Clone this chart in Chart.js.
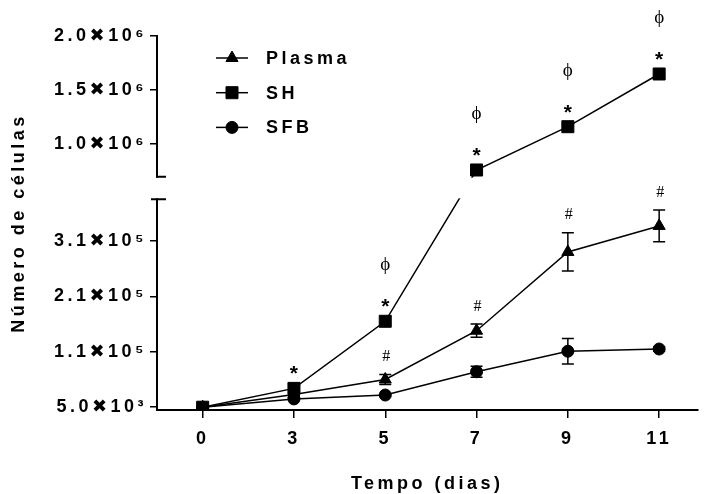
<!DOCTYPE html>
<html><head><meta charset="utf-8">
<script src="https://cdn.jsdelivr.net/npm/chart.js@4.4.0/dist/chart.umd.min.js"></script>
<style>html,body{margin:0;padding:0;background:#fff}#wrap{width:707px;height:494px;position:relative}</style>
</head><body><div id="wrap"><canvas id="c"></canvas></div>
<script>
// ---- data ----
const days = ['0', '3', '5', '7', '9', '11'];
const seriesNames = ['Plasma', 'SH', 'SFB'];
const plasmaValues = [5000, 28000, 55000, 143000, 285000, 332000];
const plasmaErrors = [0, 2000, 9000, 12000, 34500, 28500];
const shValues = [5000, 39000, 160000, 762000, 1162000, 1649000];
const shErrors = [0, 0, 0, 0, 0, 0];
const sfbValues = [5000, 20000, 27000, 69000, 106000, 110000];
const sfbErrors = [0, 2000, 2500, 10000, 23000, 4000];
const yTickValues = [5000, 105000, 205000, 305000, 1000000, 1500000, 2000000];
const yTickLabels = ['5.0\u271610\u00b3', '1.1\u271610\u2075', '2.1\u271610\u2075', '3.1\u271610\u2075',
                     '1.0\u271610\u2076', '1.5\u271610\u2076', '2.0\u271610\u2076'];
const lowerRange = [0, 380000];
const upperRange = [700000, 2000000];
const shStars = ['', '*', '*', '*', '*', '*'];
const shPhis = ['', '', '\u03d5', '\u03d5', '\u03d5', '\u03d5'];
const plasmaHashes = ['', '', '#', '#', '#', '#'];

// ---- style ----
const SEG = {lower: 210.7, gap: 22.6, upper: 140.7};
const FONT = '"Liberation Sans", Arial, "DejaVu Sans", sans-serif';
const SERIF = '"Liberation Serif", "Times New Roman", "DejaVu Serif", serif';
const SPACING = '3.5px';
const FS = 18;

// broken (two-segment) linear scale
class BrokenLinearScale extends Chart.LinearScale {
  _fr() {
    const tot = SEG.lower + SEG.gap + SEG.upper;
    return [SEG.lower / tot, SEG.gap / tot, SEG.upper / tot];
  }
  _dec(v) {
    const [fL, fG, fU] = this._fr();
    const [a, b] = lowerRange, [c, d] = upperRange;
    if (v <= b) return (v - a) / (b - a) * fL;
    if (v < c) return fL + (v - b) / (c - b) * fG;
    return fL + fG + (v - c) / (d - c) * fU;
  }
  getPixelForValue(v) {
    if (v === null || v === undefined) return NaN;
    return this.getPixelForDecimal(this._dec(v));
  }
  getValueForPixel(p) {
    const dec = this.getDecimalForPixel(p);
    const [fL, fG, fU] = this._fr();
    const [a, b] = lowerRange, [c, d] = upperRange;
    if (dec <= fL) return a + dec / fL * (b - a);
    if (dec < fL + fG) return b + (dec - fL) / fG * (c - b);
    return c + (dec - fL - fG) / fU * (d - c);
  }
}
BrokenLinearScale.id = 'brokenLinear';
BrokenLinearScale.defaults = Chart.LinearScale.defaults;
Chart.register(BrokenLinearScale);

const toXY = arr => arr.map((v, i) => ({x: i, y: v}));
const common = {borderColor: '#000', backgroundColor: '#000', borderWidth: 1.5, pointBorderWidth: 1,
  pointBackgroundColor: '#000', pointBorderColor: '#000', tension: 0, fill: false};

const datasets = [
  Object.assign({label: seriesNames[0], data: toXY(plasmaValues), errors: plasmaErrors,
    pointStyle: 'triangle', pointRadius: 7, pointHoverRadius: 7, order: 2}, common),
  Object.assign({label: seriesNames[1], data: toXY(shValues), errors: shErrors,
    pointStyle: 'rect', pointRadius: 8.5, pointHoverRadius: 8.5, order: 0}, common),
  Object.assign({label: seriesNames[2], data: toXY(sfbValues), errors: sfbErrors,
    pointStyle: 'circle', pointRadius: 6, pointHoverRadius: 6, order: 1}, common)
];

const spacingPlugin = {
  id: 'spacing',
  beforeLayout(chart) { chart.ctx.letterSpacing = SPACING; },
  beforeDraw(chart) {
    chart.ctx.letterSpacing = SPACING;
    const ctx = chart.ctx; ctx.save(); ctx.fillStyle = '#fff';
    ctx.fillRect(0, 0, chart.width, chart.height); ctx.restore();
  }
};

const errorBarPlugin = {
  id: 'errorBars',
  beforeDatasetsDraw(chart) {
    const ctx = chart.ctx, xs = chart.scales.x, ys = chart.scales.y;
    chart.data.datasets.forEach(ds => {
      if (!ds.errors) return;
      ds.data.forEach((p, i) => {
        const e = ds.errors[i];
        if (!e) return;
        const px = xs.getPixelForValue(p.x);
        const t = ys.getPixelForValue(p.y + e), b = ys.getPixelForValue(p.y - e);
        ctx.save(); ctx.strokeStyle = '#000'; ctx.lineWidth = 1.5;
        ctx.beginPath();
        ctx.moveTo(px, t); ctx.lineTo(px, b);
        ctx.moveTo(px - 6, t); ctx.lineTo(px + 6, t);
        ctx.moveTo(px - 6, b); ctx.lineTo(px + 6, b);
        ctx.stroke(); ctx.restore();
      });
    });
  }
};

function drawMarker(ctx, style, r, x, y) {
  ctx.beginPath();
  if (style === 'triangle') {
    let rad = 0;
    ctx.moveTo(x + Math.sin(rad) * r, y - Math.cos(rad) * r);
    rad += 2 * Math.PI / 3; ctx.lineTo(x + Math.sin(rad) * r, y - Math.cos(rad) * r);
    rad += 2 * Math.PI / 3; ctx.lineTo(x + Math.sin(rad) * r, y - Math.cos(rad) * r);
    ctx.closePath();
  } else if (style === 'rect') {
    const s = Math.SQRT1_2 * r; ctx.rect(x - s, y - s, 2 * s, 2 * s);
  } else {
    ctx.arc(x, y, r, 0, Math.PI * 2);
  }
  ctx.fill(); ctx.stroke();
}

const breakPlugin = {
  id: 'axisBreak',
  afterDatasetsDraw(chart) {
    const ctx = chart.ctx, ys = chart.scales.y, ca = chart.chartArea;
    const top = ys.getPixelForValue(upperRange[0]);
    const bot = ys.getPixelForValue(lowerRange[1]);
    ctx.save();
    ctx.fillStyle = '#fff';
    ctx.fillRect(ca.left - 10, top + 1, ca.right - ca.left + 20, bot - top - 2);
    ctx.strokeStyle = '#000'; ctx.lineWidth = 2;
    ctx.beginPath();
    ctx.moveTo(ca.left - 1, top); ctx.lineTo(ca.left + 9, top);
    ctx.moveTo(ca.left - 6, bot); ctx.lineTo(ca.left + 9, bot);
    ctx.stroke();
    ctx.restore();

    // significance annotations
    const xs = chart.scales.x;
    ctx.save();
    ctx.letterSpacing = '0px';
    ctx.fillStyle = '#000'; ctx.textAlign = 'center'; ctx.textBaseline = 'alphabetic';
    shValues.forEach((v, i) => {
      const px = xs.getPixelForValue(i), py = ys.getPixelForValue(v);
      if (shStars[i]) { ctx.font = 'bold 21px ' + FONT; ctx.fillText(shStars[i], px, py - 8); }
      if (shPhis[i]) { ctx.font = '19px ' + SERIF; ctx.fillText(shPhis[i], px, py - 51); }
    });
    plasmaValues.forEach((v, i) => {
      const px = xs.getPixelForValue(i), pt = ys.getPixelForValue(v + plasmaErrors[i]);
      if (plasmaHashes[i]) { ctx.font = '16px ' + SERIF; ctx.fillText(plasmaHashes[i], px + 1, pt - 13.5); }
    });
    ctx.restore();
  },
  afterDraw(chart) {
    const ctx = chart.ctx, ca = chart.chartArea;
    // legend
    ctx.save();
    ctx.letterSpacing = SPACING;
    [0, 1, 2].forEach((di, row) => {
      const ds = chart.data.datasets[di];
      const y = ca.top + 22 + row * 34.7;
      const x0 = ca.left + 59;
      ctx.strokeStyle = '#000'; ctx.fillStyle = '#000'; ctx.lineWidth = 1.5;
      ctx.beginPath(); ctx.moveTo(x0, y); ctx.lineTo(x0 + 32, y); ctx.stroke();
      ctx.lineWidth = 1;
      drawMarker(ctx, ds.pointStyle, ds.pointRadius, x0 + 16, y);
      ctx.font = 'bold ' + FS + 'px ' + FONT; ctx.textAlign = 'left'; ctx.textBaseline = 'middle';
      ctx.fillText(ds.label, x0 + 50, y + 1);
    });
    // y title
    ctx.translate(19, (ca.top + ca.bottom) / 2);
    ctx.rotate(-Math.PI / 2);
    ctx.font = 'bold ' + FS + 'px ' + FONT; ctx.textAlign = 'center'; ctx.textBaseline = 'middle';
    ctx.fillText('N\u00famero de c\u00e9lulas', 0, 0);
    ctx.restore();
  }
};

new Chart(document.getElementById('c'), {
  type: 'line',
  data: {datasets},
  options: {
    responsive: true, maintainAspectRatio: false, animation: false, events: [],
    layout: {padding: {top: 36, right: 1, bottom: 0, left: 0}},
    plugins: {legend: {display: false}, tooltip: {enabled: false}},
    scales: {
      x: {
        type: 'linear', min: -0.5, max: 5.42,
        afterBuildTicks: s => { s.ticks = days.map((d, i) => ({value: i})); },
        afterFit: s => { s.height = 84; },
        ticks: {autoSkip: false, maxRotation: 0, color: '#000', padding: 10,
          font: {family: FONT, size: FS, weight: 'bold'},
          callback: v => days[Math.round(v)]},
        grid: {drawOnChartArea: false, drawTicks: true, tickLength: 8, color: '#000', lineWidth: 1.5},
        border: {display: true, color: '#000', width: 2},
        title: {display: true, text: 'Tempo (dias)', color: '#000', padding: {top: 0, bottom: -1},
          font: {family: FONT, size: FS, weight: 'bold'}}
      },
      y: {
        type: 'brokenLinear', min: lowerRange[0], max: upperRange[1], bounds: 'data',
        afterBuildTicks: s => { s.ticks = yTickValues.map(v => ({value: v})); },
        afterFit: s => { s.width = 157; },
        ticks: {autoSkip: false, color: '#000', padding: 3,
          font: {family: FONT, size: FS, weight: 'bold'},
          callback: (v, i) => yTickLabels[i]},
        grid: {drawOnChartArea: false, drawTicks: true, tickLength: 7, color: '#000', lineWidth: 1.5},
        border: {display: true, color: '#000', width: 2}
      }
    }
  },
  plugins: [spacingPlugin, errorBarPlugin, breakPlugin]
});
</script>
</body></html>
